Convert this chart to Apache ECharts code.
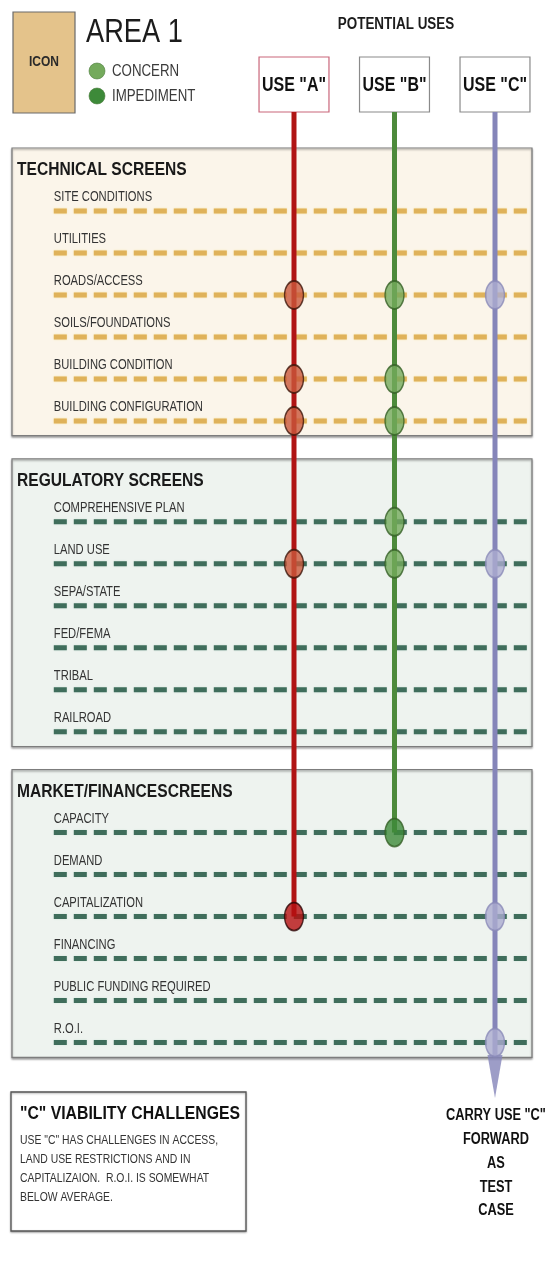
<!DOCTYPE html>
<html>
<head>
<meta charset="utf-8">
<script src="https://cdn.jsdelivr.net/npm/echarts@6/dist/echarts.min.js"></script>
<style>
html, body { margin: 0; padding: 0; background: #fff; }
#chart { width: 558px; height: 1268px; }
</style>
</head>
<body>
<div id="chart"></div>
<script>
// screens and their grouping
const sectionTitles = ['TECHNICAL SCREENS', 'REGULATORY SCREENS', 'MARKET/FINANCESCREENS'];
const technicalScreens = ['SITE CONDITIONS', 'UTILITIES', 'ROADS/ACCESS', 'SOILS/FOUNDATIONS', 'BUILDING CONDITION', 'BUILDING CONFIGURATION'];
const regulatoryScreens = ['COMPREHENSIVE PLAN', 'LAND USE', 'SEPA/STATE', 'FED/FEMA', 'TRIBAL', 'RAILROAD'];
const marketScreens = ['CAPACITY', 'DEMAND', 'CAPITALIZATION', 'FINANCING', 'PUBLIC FUNDING REQUIRED', 'R.O.I.'];

// potential uses
const uses = ['USE "A"', 'USE "B"', 'USE "C"'];

// 0 = clear, 1 = concern, 2 = impediment (one value per screen, in order above)
const useAStatus = [0, 0, 1, 0, 1, 1,   0, 1, 0, 0, 0, 0,   0, 0, 2, 0, 0, 0];
const useBStatus = [0, 0, 1, 0, 1, 1,   1, 1, 0, 0, 0, 0,   2, 0, 0, 0, 0, 0];
const useCStatus = [0, 0, 1, 0, 0, 0,   0, 1, 0, 0, 0, 0,   0, 0, 1, 0, 0, 1];
const carriedUse = 2;

const legendItems = ['CONCERN', 'IMPEDIMENT'];
const noteTitle = '"C" VIABILITY CHALLENGES';
const noteLines = ['USE "C" HAS CHALLENGES IN ACCESS,', 'LAND USE RESTRICTIONS AND IN', 'CAPITALIZAION.  R.O.I. IS SOMEWHAT', 'BELOW AVERAGE.'];
const carryLines = ['CARRY USE "C"', 'FORWARD', 'AS', 'TEST', 'CASE'];


// ---- layout / styling ----
// no narrow font installed, so squeeze Liberation Sans horizontally
const FONT = '"Liberation Sans", Arial, sans-serif';
const SQUEEZE = 0.8;
const SECTION_STEP = 7.4;       // rows between first rows of two sections
const ROW_X0 = -2.39, BOX_X0 = -2.806, BOX_X1 = 2.368;
const USE_TOP = -3.667, USE_BOTTOM = -2.357, USE_HALF = 0.348;
const ARROW_END = 21.13;

const lineColors = ['#b01414', '#4d8a3b', '#8585b9'];
const markerColors = [
    [null, '#c9573b', '#b50f10'],
    [null, '#74aa5c', '#3d8a39'],
    [null, '#ababd0', '#6f6fa8']
];
const markerBorders = ['#3b1409', '#355f26', '#8a8ab8'];
const sectionFills = ['#fbf5ea', '#eef3ef', '#eef3ef'];
const dashColors = ['#dfb25a', '#3f6d5b', '#3f6d5b'];


const sectionScreens = [technicalScreens, regulatoryScreens, marketScreens];
const allScreens = [];
const rowPos = [];
const rowSection = [];
sectionScreens.forEach((list, s) => {
    list.forEach((name, j) => {
        allScreens.push(name);
        rowPos.push(s * SECTION_STEP + j);
        rowSection.push(s);
    });
});

const statuses = [useAStatus, useBStatus, useCStatus];

function txt(x, y, text, font, fill, align, squeeze) {
    return {
        type: 'text', x: x, y: y, scaleX: squeeze || SQUEEZE,
        style: { text: text, font: font, fill: fill, align: align || 'left', verticalAlign: 'middle' }
    };
}


function sectionRender(params, api) {
    const s = params.dataIndex;
    const base = s * SECTION_STEP;
    const tl = api.coord([BOX_X0, base - 1.5]);
    const br = api.coord([BOX_X1, base + 5.35]);
    const title = api.coord([BOX_X0 + 0.05, base - 0.98]);
    return {
        type: 'group',
        children: [
            {
                type: 'rect',
                shape: { x: tl[0], y: tl[1], width: br[0] - tl[0], height: br[1] - tl[1] },
                style: { fill: sectionFills[s], stroke: '#7d7d7d', lineWidth: 1.2, shadowColor: 'rgba(0,0,0,0.35)', shadowBlur: 2, shadowOffsetY: 1.5 }
            },
            txt(title[0], title[1], sectionTitles[s], 'bold 19px ' + FONT, '#1a1a1a', 'left', 0.82)
        ]
    };
}

function rowRender(params, api) {
    const i = params.dataIndex;
    const y = rowPos[i];
    const a = api.coord([ROW_X0, y]);
    const b = api.coord([BOX_X1, y]);
    const lab = api.coord([ROW_X0, y - 0.33]);
    const s = rowSection[i];
    return {
        type: 'group',
        children: [
            {
                type: 'line',
                shape: { x1: a[0], y1: a[1], x2: b[0], y2: b[1] },
                style: { stroke: dashColors[s], lineWidth: 5, lineDash: [13, 7], shadowColor: s === 0 ? '#f6e2a0' : '#cfe3da', shadowBlur: 2 }
            },
            txt(lab[0], lab[1], allScreens[i], '14px ' + FONT, '#333')
        ]
    };
}

function useBoxRender(params, api) {
    const u = params.dataIndex;
    const tl = api.coord([u - USE_HALF, USE_TOP]);
    const br = api.coord([u + USE_HALF, USE_BOTTOM]);
    return {
        type: 'group',
        children: [
            {
                type: 'rect',
                shape: { x: tl[0], y: tl[1], width: br[0] - tl[0], height: br[1] - tl[1] },
                style: { fill: '#fff', stroke: u === 0 ? '#c9667a' : '#8a8a8a', lineWidth: 1.2 }
            },
            txt((tl[0] + br[0]) / 2, (tl[1] + br[1]) / 2 + 1, uses[u], 'bold 20px ' + FONT, '#111', 'center')
        ]
    };
}

const series = [
    {
        type: 'custom', z: 1,
        renderItem: sectionRender,
        data: sectionTitles.map((t, s) => [0, s * SECTION_STEP])
    },
    {
        type: 'custom', z: 2,
        renderItem: rowRender,
        data: allScreens.map((n, i) => [0, rowPos[i]])
    },
    {
        type: 'custom', z: 2,
        renderItem: useBoxRender,
        data: uses.map((u, i) => [i, USE_TOP])
    }
];

// vertical lines, one per use, ending at its last marked screen (or the arrow)
uses.forEach((u, i) => {
    let last = 0;
    statuses[i].forEach((v, k) => { if (v) last = rowPos[k]; });
    const end = i === carriedUse ? ARROW_END - 1.0 : last;
    series.push({
        type: 'line', z: 3,
        symbol: 'none',
        lineStyle: { color: lineColors[i], width: 5 },
        data: [[i, USE_BOTTOM], [i, end]]
    });
});

series.push({
    type: 'scatter', z: 3,
    symbol: 'triangle',
    symbolRotate: 180,
    symbolSize: [15, 43],
    itemStyle: { color: lineColors[carriedUse] },
    data: [[carriedUse, ARROW_END - 0.52]]
});

const ellipse = 'path://M0,-1A1,1 0 1,1 0,1A1,1 0 1,1 0,-1Z';
uses.forEach((u, i) => {
    [1, 2].forEach(level => {
        const pts = [];
        statuses[i].forEach((v, k) => { if (v === level) pts.push([i, rowPos[k]]); });
        if (!pts.length) return;
        series.push({
            type: 'scatter', z: 4,
            symbol: ellipse,
            symbolSize: [19, 28],
            itemStyle: {
                color: markerColors[i][level],
                borderColor: level === 2 && i === 0 ? '#2a0505' : markerBorders[i],
                borderWidth: 1.6
            },
            data: pts
        });
    });
});


const graphic = [
    { type: 'rect', shape: { x: 13, y: 12, width: 62, height: 101 }, style: { fill: '#e4c38b', stroke: '#6a6a6a', lineWidth: 1.2 } },
    txt(44, 62, 'ICON', 'bold 15px ' + FONT, '#2a2a2a', 'center'),
    txt(86, 33, 'AREA 1', '34px ' + FONT, '#1c1c1c'),
    txt(396, 25, 'POTENTIAL USES', 'bold 16px ' + FONT, '#1c1c1c', 'center', 0.84),
    { type: 'rect', shape: { x: 11, y: 1092, width: 235, height: 139 }, style: { fill: '#fff', stroke: '#555', lineWidth: 1.3, shadowColor: 'rgba(0,0,0,0.3)', shadowBlur: 2, shadowOffsetY: 1 } },
    txt(20, 1114, noteTitle, 'bold 19px ' + FONT, '#111', 'left', 0.83)
];

legendItems.forEach((t, i) => {
    graphic.push({ type: 'circle', shape: { cx: 97, cy: 71 + i * 25, r: 8 }, style: { fill: markerColors[1][i + 1], stroke: '#4c7c3c', lineWidth: 0.6 } });
    graphic.push(txt(112, 72 + i * 25, t, '16px ' + FONT, '#3a3a3a', 'left', 0.83));
});

noteLines.forEach((t, i) => {
    graphic.push(txt(20, 1140 + i * 19, t, '13px ' + FONT, '#333'));
});

carryLines.forEach((t, i) => {
    graphic.push(txt(496, 1116 + i * 23.7, t, 'bold 16px ' + FONT, '#111', 'center'));
});


const myChart = echarts.init(document.getElementById('chart'));
myChart.setOption({
    animation: false,
    backgroundColor: '#fff',
    grid: { left: 0, right: 0, top: 0, bottom: 0 },
    xAxis: { type: 'value', min: -2.9254, max: 2.6269, show: false },
    yAxis: { type: 'value', min: -5.0238, max: 25.1667, inverse: true, show: false },
    series: series,
    graphic: graphic
});
</script>
</body>
</html>
